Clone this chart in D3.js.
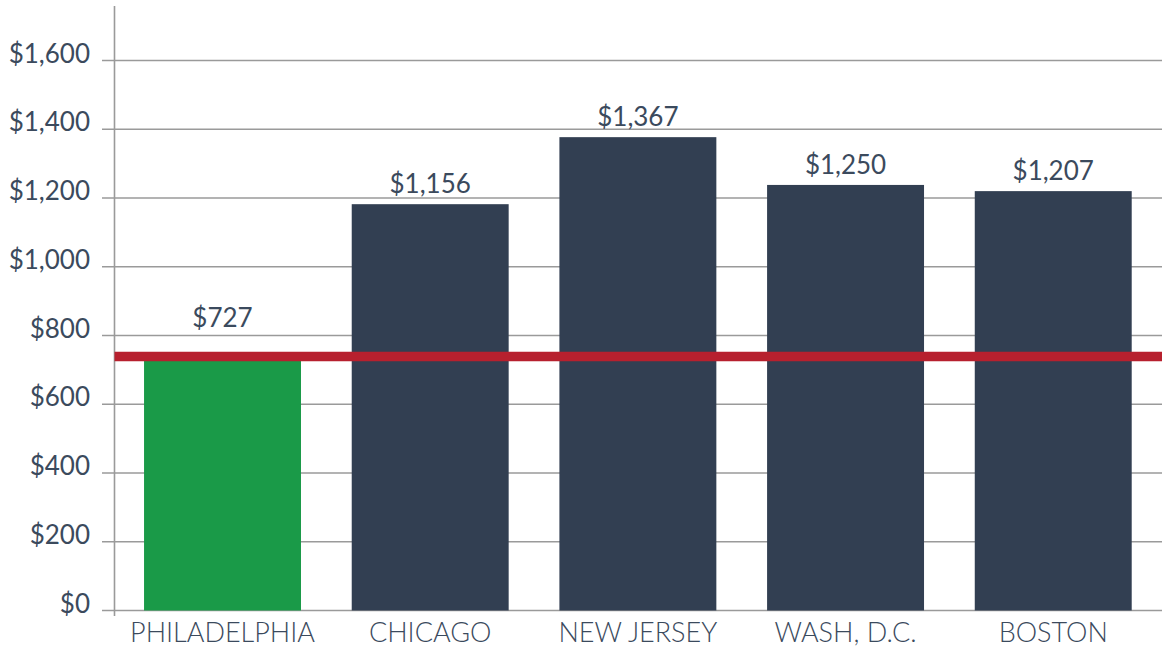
<!DOCTYPE html>
<html>
<head>
<meta charset="utf-8">
<script src="https://cdn.jsdelivr.net/npm/d3@7"></script>
<style>
  html, body { margin: 0; padding: 0; background: #fff; }
  svg { display: block; }
  text { font-family: Lato, "Open Sans", sans-serif; }
</style>
</head>
<body>
<svg id="chart" width="1162" height="650"></svg>
<script>
// ---- data ----
const categories = ["PHILADELPHIA", "CHICAGO", "NEW JERSEY", "WASH, D.C.", "BOSTON"];
const barValues = [727, 1182, 1377, 1238, 1220];          // bar heights as drawn
const valueLabels = ["$727", "$1,156", "$1,367", "$1,250", "$1,207"];
const referenceValue = [739];                                // red line
const yTicks = [0, 200, 400, 600, 800, 1000, 1200, 1400, 1600];
const yTickLabels = ["$0", "$200", "$400", "$600", "$800", "$1,000", "$1,200", "$1,400", "$1,600"];

// ---- layout ----
const W = 1162, H = 650;
const axisX = 114.5;
const svg = d3.select("#chart");

const x = d3.scaleBand()
  .domain(categories)
  .range([118.5, 1157.25])
  .paddingInner(0.2443)
  .paddingOuter(0.123);

const y = d3.scaleLinear().domain([0, 1600]).range([610.5, 60.5]);

const textColor = "#3b4a5d";
const gridColor = "#9a9a9a";

// gridlines
svg.append("g").selectAll("line").data(yTicks).join("line")
  .attr("x1", 102).attr("x2", W)
  .attr("y1", d => y(d)).attr("y2", d => y(d))
  .attr("stroke", gridColor).attr("stroke-width", 1.6);

// y tick labels
svg.append("g").selectAll("text").data(yTicks).join("text")
  .attr("x", 90).attr("y", d => y(d) + 2)
  .attr("text-anchor", "end")
  .attr("font-size", 26)
  .attr("fill", textColor)
  .text((d, i) => yTickLabels[i]);

// y axis line
svg.append("line")
  .attr("x1", axisX).attr("x2", axisX)
  .attr("y1", 6).attr("y2", 616)
  .attr("stroke", gridColor).attr("stroke-width", 1.6);

// bars
svg.append("g").selectAll("rect").data(categories).join("rect")
  .attr("x", d => x(d))
  .attr("width", x.bandwidth())
  .attr("y", (d, i) => y(barValues[i]))
  .attr("height", (d, i) => y(0) - y(barValues[i]))
  .attr("fill", (d, i) => i === 0 ? "#1a9a48" : "#323f52");

// reference line
svg.append("g").selectAll("line").data(referenceValue).join("line")
  .attr("x1", axisX).attr("x2", W)
  .attr("y1", d => y(d)).attr("y2", d => y(d))
  .attr("stroke", "#b7202e").attr("stroke-width", 9.5);

// value labels
svg.append("g").selectAll("text").data(categories).join("text")
  .attr("x", d => x(d) + x.bandwidth() / 2)
  .attr("y", (d, i) => {
    const top = Math.min(y(barValues[i]), y(referenceValue[0]) - 5);
    return top - (i === 0 ? 24 : 11);
  })
  .attr("text-anchor", "middle")
  .attr("font-size", 26)
  .attr("fill", textColor)
  .text((d, i) => valueLabels[i]);

// x category labels
svg.append("g").selectAll("text").data(categories).join("text")
  .attr("x", d => x(d) + x.bandwidth() / 2)
  .attr("y", 642)
  .attr("text-anchor", "middle")
  .attr("font-size", 27)
  .attr("font-weight", 300)
  .attr("fill", textColor)
  .text(d => d);
</script>
</body>
</html>
